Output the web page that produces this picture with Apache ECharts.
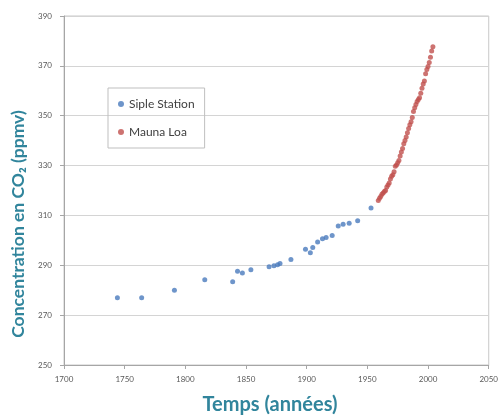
<!DOCTYPE html>
<html>
<head>
<meta charset="utf-8">
<script src="https://cdn.jsdelivr.net/npm/echarts@6/dist/echarts.min.js"></script>
<style>
  html, body { margin: 0; padding: 0; background: #fff; }
  #chart { width: 501px; height: 416px; }
</style>
</head>
<body>
<div id="chart"></div>
<script>
// Siple Station (carottes de glace)
const sipleYears = [1744, 1764, 1791, 1816, 1839, 1843, 1847, 1854, 1869, 1873, 1876, 1878, 1887,
  1899, 1903, 1905, 1909, 1913, 1916, 1921, 1926, 1930, 1935, 1942, 1953];
const sipleCO2 = [277.0, 277.0, 280.0, 284.2, 283.4, 287.6, 286.9, 288.2, 289.4, 289.8, 290.2, 290.7, 292.3,
  296.4, 295.0, 297.1, 299.3, 300.6, 301.1, 301.9, 305.8, 306.5, 306.9, 307.9, 313.0];

// Mauna Loa (moyennes annuelles)
const maunaYears = [1959, 1960, 1961, 1962, 1963, 1964, 1965, 1966, 1967, 1968, 1969, 1970, 1971, 1972,
  1973, 1974, 1975, 1976, 1977, 1978, 1979, 1980, 1981, 1982, 1983, 1984, 1985, 1986, 1987, 1988,
  1989, 1990, 1991, 1992, 1993, 1994, 1995, 1996, 1997, 1998, 1999, 2000, 2001, 2002, 2003, 2004];
const maunaCO2 = [316.0, 316.9, 317.6, 318.5, 319.0, 319.6, 320.0, 321.4, 322.2, 323.0, 324.6, 325.7, 326.3, 327.5,
  329.7, 330.2, 331.1, 332.0, 333.8, 335.4, 336.8, 338.8, 340.1, 341.5, 343.2, 344.9, 346.4, 347.6, 349.3, 351.7,
  353.2, 354.5, 355.7, 356.5, 357.2, 359.0, 361.0, 362.7, 363.9, 366.8, 368.5, 369.7, 371.3, 373.5, 376.0, 377.7];

const zip = (xs, ys) => xs.map((x, i) => [x, ys[i]]);

const teal = '#31859c';
const font = 'Lato, "Open Sans", sans-serif';

const chart = echarts.init(document.getElementById('chart'));

chart.setOption({
  animation: false,
  grid: {
    left: 64, right: 11, top: 16, bottom: 51,
    show: true, borderColor: '#c8c8c8', borderWidth: 1
  },
  legend: {
    orient: 'vertical',
    left: 108, top: 88,
    padding: [10, 10, 10, 10],
    itemGap: 16,
    itemWidth: 6, itemHeight: 6,
    icon: 'circle',
    borderColor: '#bfbfbf', borderWidth: 1,
    textStyle: { fontFamily: font, fontSize: 12, color: '#404040' },
    data: ['Siple Station', 'Mauna Loa']
  },
  xAxis: {
    type: 'value',
    min: 1700, max: 2050, interval: 50,
    axisLine: { lineStyle: { color: '#a6a6a6' } },
    axisTick: { show: true, length: 4, lineStyle: { color: '#a6a6a6' } },
    axisLabel: { fontFamily: font, fontSize: 8, color: '#595959', margin: 10, formatter: v => String(v) },
    splitLine: { show: false }
  },
  yAxis: {
    type: 'value',
    min: 250, max: 390, interval: 20,
    axisLine: { show: true, lineStyle: { color: '#a6a6a6' } },
    axisTick: { show: true, length: 4, lineStyle: { color: '#a6a6a6' } },
    axisLabel: { fontFamily: font, fontSize: 8, color: '#595959', margin: 12 },
    splitLine: { lineStyle: { color: '#d4d4d4' } }
  },
  graphic: [
    {
      type: 'text', x: 270, y: 405,
      style: {
        text: 'Temps (années)', font: 'bold 20px ' + font, fill: teal,
        textAlign: 'center', textVerticalAlign: 'middle'
      }
    },
    {
      type: 'text',
      x: 18, y: 224, rotation: Math.PI / 2,
      style: {
        text: 'Concentration en CO₂ (ppmv)', font: 'bold 17.5px ' + font, fill: teal,
        textAlign: 'center', textVerticalAlign: 'middle'
      }
    }
  ],
  series: [
    {
      name: 'Siple Station', type: 'scatter',
      symbolSize: 5,
      itemStyle: { color: '#4a7bbd' },
      data: zip(sipleYears, sipleCO2)
    },
    {
      name: 'Mauna Loa', type: 'scatter',
      symbolSize: 5,
      itemStyle: { color: '#c0504d' },
      data: zip(maunaYears, maunaCO2)
    }
  ]
});
</script>
</body>
</html>
